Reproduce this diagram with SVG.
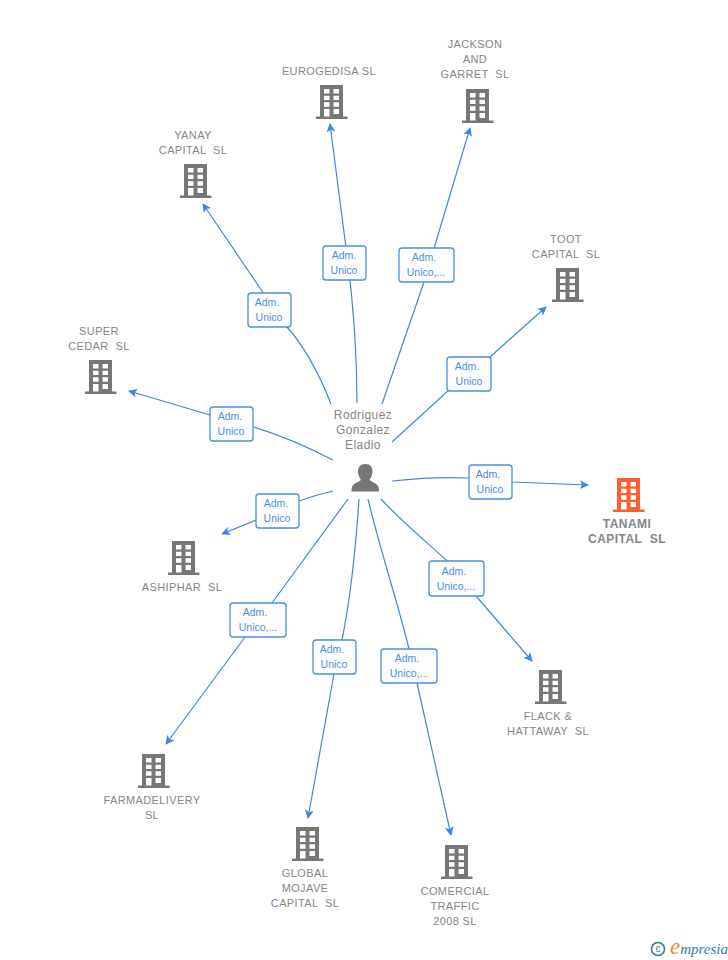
<svg xmlns="http://www.w3.org/2000/svg" width="728" height="960" viewBox="0 0 728 960">
<style>
.c{fill:none;stroke:#3f86e2;stroke-width:1.2;marker-end:url(#a)}
.b{fill:#fdfdfd;stroke:#4a8fe4;stroke-width:1.3}
.bt{font:10.5px "Liberation Sans",Arial,sans-serif;fill:#4a8fe4;text-anchor:middle}
.l{font:11px "Liberation Sans",Arial,sans-serif;fill:#868686;text-anchor:middle;white-space:pre;letter-spacing:.38px}
.t{font:bold 12px "Liberation Sans",Arial,sans-serif;fill:#868686;text-anchor:middle;white-space:pre;letter-spacing:.45px}
.p{font:12px "Liberation Sans",Arial,sans-serif;fill:#868686;text-anchor:middle;letter-spacing:.4px}
.g{fill:#777}
.o{fill:#ff5f33}
</style>
<defs>
<marker id="a" viewBox="0 0 10 10" refX="9" refY="5" markerWidth="9" markerHeight="9" markerUnits="userSpaceOnUse" orient="auto"><path d="M0 0L10 5L0 10L2.5 5Z" fill="#3f86e2"/></marker>
<symbol id="bld" viewBox="0 0 32 35" width="32" height="35" overflow="visible">
<path fill-rule="evenodd" d="M4 0H27V31.500H31.500V34H0V31.500H4ZM8 4V8.500H13.500V4ZM17.500 4V8.500H23V4ZM8 10.700V15H13.500V10.700ZM17.500 10.700V15H23V10.700ZM8 17.300V21.700H13.500V17.300ZM17.500 17.300V21.700H23V17.300ZM8 24V31.500H13.500V24ZM17.500 24V29H23V24Z"/>
</symbol>
</defs>
<g id="connectors">
<path class="c" d="M357 403C357 340 352 290 345 240L330 124"/>
<path class="c" d="M382 404L424 282L470 128"/>
<path class="c" d="M331 404C318 370 300 340 285 325L203 204"/>
<path class="c" d="M392 442L449 390L490 357L546 307"/>
<path class="c" d="M333 460C310 448 280 435 254 427C240 423 225 419 210 415L129 391"/>
<path class="c" d="M392 481C420 478 445 477 469 478C485 479 498 481 512 482L588 485"/>
<path class="c" d="M333 491C320 494 310 497 299 501L256 520L222 534"/>
<path class="c" d="M348 499L272 603L245 637L166 744"/>
<path class="c" d="M359 499C355 560 348 610 342 640L334 674L308 818"/>
<path class="c" d="M368 499C380 550 400 610 409 649L417 683L451 835"/>
<path class="c" d="M381 499C400 520 430 545 447 561L476 596L532 661"/>
</g>
<g id="boxes">
<g><rect class="b" x="323" y="246" width="43" height="34" rx="3"/><text class="bt" x="344" y="259">Adm.</text><text class="bt" x="344" y="274">Unico</text></g>
<g><rect class="b" x="399" y="248" width="55" height="34" rx="3"/><text class="bt" x="424" y="261">Adm.</text><text class="bt" x="426" y="276">Unico,...</text></g>
<g><rect class="b" x="248" y="293" width="43" height="34" rx="3"/><text class="bt" x="267" y="306">Adm.</text><text class="bt" x="269" y="321">Unico</text></g>
<g><rect class="b" x="447" y="357" width="44" height="34" rx="3"/><text class="bt" x="467" y="370">Adm.</text><text class="bt" x="469" y="385">Unico</text></g>
<g><rect class="b" x="210" y="407" width="43" height="34" rx="3"/><text class="bt" x="230" y="420">Adm.</text><text class="bt" x="231" y="435">Unico</text></g>
<g><rect class="b" x="469" y="465" width="43" height="34" rx="3"/><text class="bt" x="488" y="478">Adm.</text><text class="bt" x="490" y="493">Unico</text></g>
<g><rect class="b" x="256" y="494" width="43" height="34" rx="3"/><text class="bt" x="276" y="507">Adm.</text><text class="bt" x="277" y="522">Unico</text></g>
<g><rect class="b" x="230" y="603" width="56" height="34" rx="3"/><text class="bt" x="255" y="616">Adm.</text><text class="bt" x="258" y="631">Unico,...</text></g>
<g><rect class="b" x="313" y="640" width="43" height="34" rx="3"/><text class="bt" x="332" y="653">Adm.</text><text class="bt" x="334" y="668">Unico</text></g>
<g><rect class="b" x="381" y="649" width="56" height="34" rx="3"/><text class="bt" x="407" y="662">Adm.</text><text class="bt" x="409" y="677">Unico,...</text></g>
<g><rect class="b" x="429" y="561" width="55" height="35" rx="3"/><text class="bt" x="454" y="575">Adm.</text><text class="bt" x="456" y="590">Unico,...</text></g>
</g>
<g id="person">
<text class="p" x="363" y="419">Rodriguez</text><text class="p" x="363" y="434">Gonzalez</text><text class="p" x="363" y="449">Eladio</text>
<path class="g" d="M365.500 464C370.500 464 372.500 467.500 372.500 471C372.500 475 371 478 369.500 480C372 482.500 379 483 379 490V491.500H351.500V490C351.500 483 358.500 482.500 361 480C359.500 478 358 475 358 471C358 467.500 360 464 365.500 464Z"/>
</g>
<g id="eurogedisa"><use href="#bld" class="g" x="316" y="85"/><text class="l" x="329" y="75">EUROGEDISA SL</text></g>
<g id="jackson"><use href="#bld" class="g" x="462" y="89"/><text class="l" x="475" y="48">JACKSON</text><text class="l" x="475" y="63">AND</text><text class="l" x="475" y="78">GARRET  SL</text></g>
<g id="yanay"><use href="#bld" class="g" x="180" y="164"/><text class="l" x="193" y="139">YANAY</text><text class="l" x="193" y="154">CAPITAL  SL</text></g>
<g id="toot"><use href="#bld" class="g" x="552" y="268"/><text class="l" x="566" y="243">TOOT</text><text class="l" x="566" y="258">CAPITAL  SL</text></g>
<g id="super"><use href="#bld" class="g" x="85" y="360"/><text class="l" x="99" y="335">SUPER</text><text class="l" x="99" y="350">CEDAR  SL</text></g>
<g id="tanami"><use href="#bld" class="o" x="613" y="478"/><text class="t" x="627" y="528">TANAMI</text><text class="t" x="627" y="543">CAPITAL  SL</text></g>
<g id="ashiphar"><use href="#bld" class="g" x="168" y="541"/><text class="l" x="182" y="591">ASHIPHAR  SL</text></g>
<g id="flack"><use href="#bld" class="g" x="535" y="670"/><text class="l" x="548" y="720">FLACK &amp;</text><text class="l" x="548" y="735">HATTAWAY  SL</text></g>
<g id="farmadelivery"><use href="#bld" class="g" x="138" y="754"/><text class="l" x="152" y="804">FARMADELIVERY</text><text class="l" x="152" y="819">SL</text></g>
<g id="global"><use href="#bld" class="g" x="292" y="827"/><text class="l" x="305" y="877">GLOBAL</text><text class="l" x="305" y="892">MOJAVE</text><text class="l" x="305" y="907">CAPITAL  SL</text></g>
<g id="comercial"><use href="#bld" class="g" x="441" y="845"/><text class="l" x="455" y="895">COMERCIAL</text><text class="l" x="455" y="910">TRAFFIC</text><text class="l" x="455" y="925">2008 SL</text></g>
<g id="logo">
<circle cx="658" cy="949" r="6.500" fill="none" stroke="#3a7f96" stroke-width="1.6"/>
<text x="658" y="952" font-family="Liberation Sans,sans-serif" font-size="10" fill="#3a7f96" text-anchor="middle">c</text>
<text x="670" y="954" font-family="Liberation Serif,serif" font-style="italic" font-size="15" fill="#2f7f95"><tspan fill="#f28a1c" font-size="23">e</tspan>mpresia</text>
</g>
</svg>
